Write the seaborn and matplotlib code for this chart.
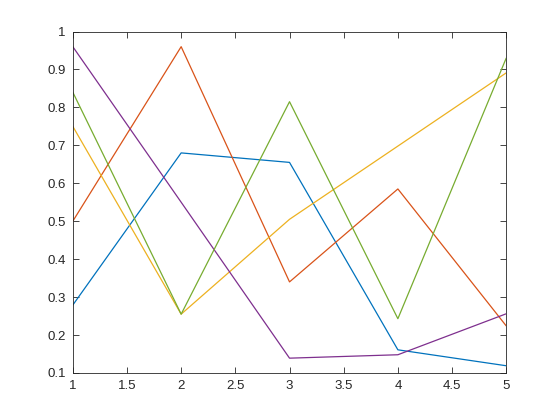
import matplotlib
matplotlib.use("Agg")
import matplotlib.pyplot as plt
import numpy as np
import pandas as pd
import seaborn as sns

x = [1, 2, 3, 4, 5]
line1 = [0.279, 0.680, 0.655, 0.161, 0.119]
line2 = [0.500, 0.960, 0.340, 0.585, 0.224]
line3 = [0.750, 0.255, 0.505, 0.698, 0.891]
line4 = [0.960, 0.550, 0.139, 0.148, 0.256]
line5 = [0.840, 0.255, 0.815, 0.243, 0.930]
series = [line1, line2, line3, line4, line5]
colors = ["#0072BD", "#D95319", "#EDB120", "#7E2F8E", "#77AC30"]

sns.set_style("white")
plt.rcParams["font.family"] = ["Liberation Sans", "DejaVu Sans"]

fig = plt.figure(figsize=(5.6, 4.2), dpi=100)
ax = fig.add_axes([0.13, 0.112, 0.774, 0.813])

for vals, c in zip(series, colors):
    df = pd.DataFrame({"x": x, "y": vals})
    sns.lineplot(data=df, x="x", y="y", color=c, linewidth=0.9, ax=ax)

ax.set_xlim(1, 5)
ax.set_ylim(0.1, 1)
ax.set_xticks(np.arange(1, 5.01, 0.5))
ax.set_xticklabels(["1", "1.5", "2", "2.5", "3", "3.5", "4", "4.5", "5"])
ax.set_yticks(np.arange(0.1, 1.001, 0.1))
ax.set_yticklabels(["0.1", "0.2", "0.3", "0.4", "0.5", "0.6", "0.7", "0.8", "0.9", "1"])
ax.set_xlabel("")
ax.set_ylabel("")
ax.tick_params(direction="in", length=4, width=0.6, colors="#262626",
               labelsize=9.5, top=True, right=True, bottom=True, left=True)
ax.tick_params(axis="y", pad=5)
ax.tick_params(axis="x", pad=5)
for s in ax.spines.values():
    s.set_visible(True)
    s.set_color("#262626")
    s.set_linewidth(0.6)

fig.savefig("out.png", dpi=100, facecolor="white")
